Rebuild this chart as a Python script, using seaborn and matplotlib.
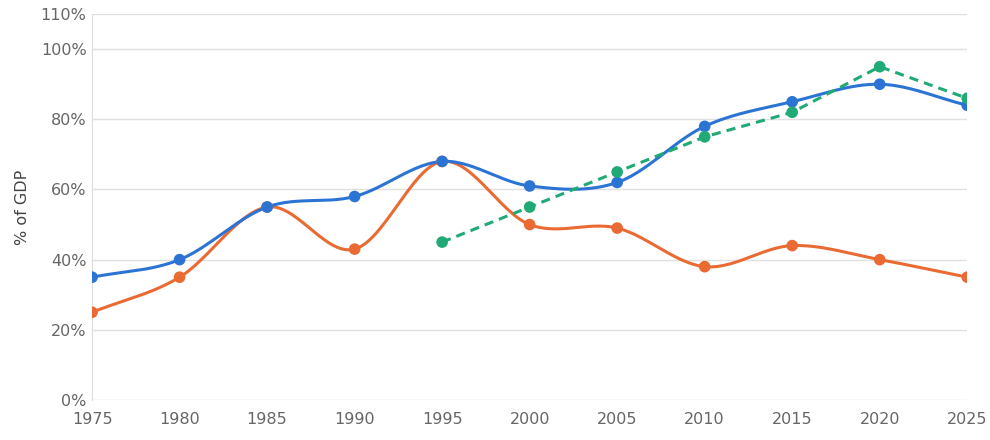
import numpy as np
import pandas as pd
import matplotlib
matplotlib.use('Agg')
import matplotlib.pyplot as plt
import seaborn as sns

years = [1975, 1980, 1985, 1990, 1995, 2000, 2005, 2010, 2015, 2020, 2025]
blue_vals = [35, 40, 55, 58, 68, 61, 62, 78, 85, 90, 84]
orange_vals = [25, 35, 55, 43, 68, 50, 49, 38, 44, 40, 35]
green_years = [1995, 2000, 2005, 2010, 2015, 2020, 2025]
green_vals = [45, 55, 65, 75, 82, 95, 86]
y_ticks = [0, 20, 40, 60, 80, 100, 110]

BLUE = '#2b74d3'
ORANGE = '#ea6a34'
GREEN = '#1faa76'


def smooth(x, y, n=30):
    # catmull-rom through the data points, just for the curve shape
    x = np.asarray(x, float)
    y = np.asarray(y, float)
    px = np.concatenate([[2 * x[0] - x[1]], x, [2 * x[-1] - x[-2]]])
    py = np.concatenate([[2 * y[0] - y[1]], y, [2 * y[-1] - y[-2]]])
    xs, ys = [], []
    for i in range(1, len(px) - 2):
        t = np.linspace(0, 1, n, endpoint=False)
        for p, out in ((px, xs), (py, ys)):
            p0, p1, p2, p3 = p[i - 1], p[i], p[i + 1], p[i + 2]
            out.extend(0.5 * (2 * p1 + (-p0 + p2) * t
                              + (2 * p0 - 5 * p1 + 4 * p2 - p3) * t ** 2
                              + (-p0 + 3 * p1 - 3 * p2 + p3) * t ** 3))
    xs.append(x[-1])
    ys.append(y[-1])
    return pd.DataFrame({'year': xs, 'value': ys})


sns.set_style('white')
plt.rcParams['font.family'] = ['DejaVu Sans']

fig = plt.figure(figsize=(9.9, 4.4), dpi=100)
ax = fig.add_axes([0.093, 0.091, 0.884, 0.877])

for vals, col in ((orange_vals, ORANGE), (blue_vals, BLUE)):
    sns.lineplot(data=smooth(years, vals), x='year', y='value', color=col,
                 linewidth=2.2, ax=ax, sort=False)
    sns.scatterplot(x=years, y=vals, color=col, s=70, edgecolor='none', ax=ax, zorder=5)

sns.lineplot(x=green_years, y=green_vals, color=GREEN, linewidth=2.2,
             linestyle=(0, (3, 2)), ax=ax)
sns.scatterplot(x=green_years, y=green_vals, color=GREEN, s=70, edgecolor='none', ax=ax, zorder=5)

ax.set_xlim(1975, 2025)
ax.set_ylim(0, 110)
ax.set_xticks(years)
ax.set_yticks(y_ticks)
ax.set_yticklabels([f'{v}%' for v in y_ticks])
ax.tick_params(colors='#666666', labelsize=11.5, length=0, pad=4)
ax.tick_params(axis='x', length=5, color='#cccccc', width=1)
for v in y_ticks:
    ax.axhline(v, color='#e0e0e0', linewidth=1, zorder=0)
for s in ['top', 'right', 'bottom']:
    ax.spines[s].set_visible(False)
ax.spines['left'].set_color('#dddddd')
ax.set_xlabel('')
ax.set_ylabel('% of GDP', color='#444444', fontsize=11.5, labelpad=8)

fig.savefig('out.png', dpi=100)
